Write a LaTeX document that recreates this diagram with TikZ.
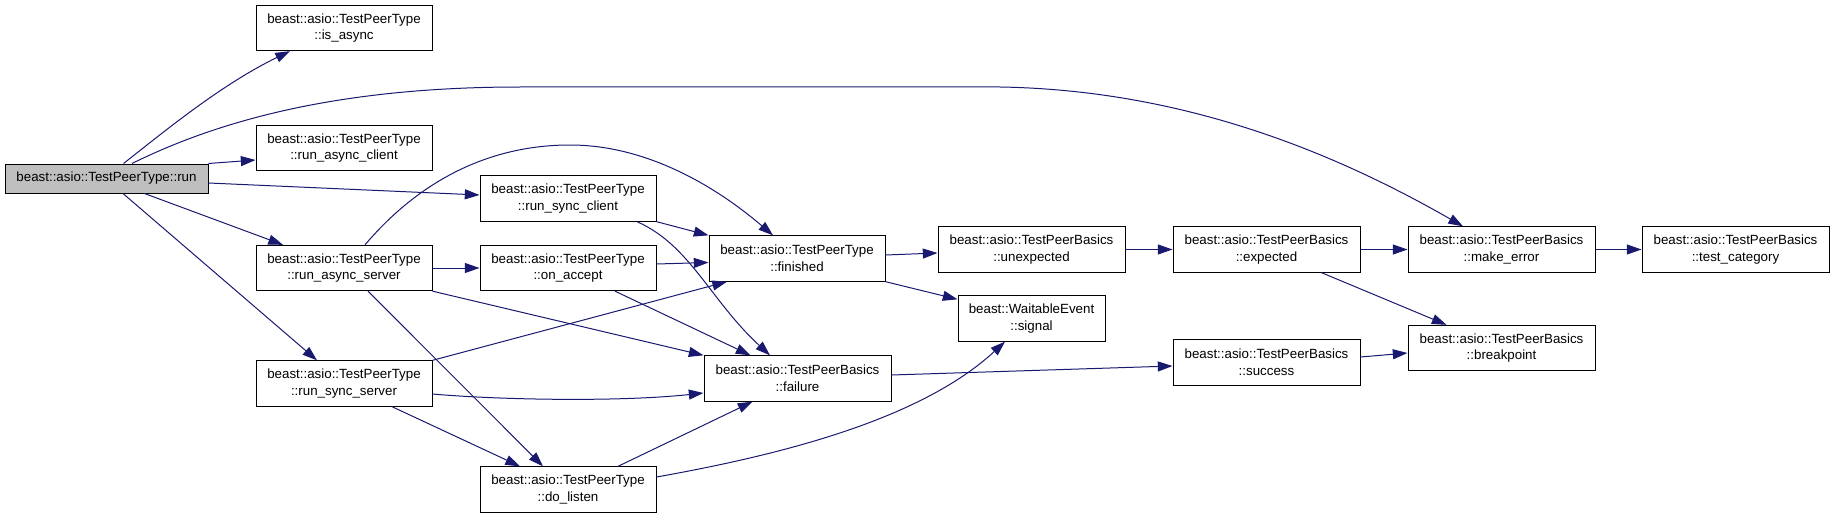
\documentclass[tikz,border=0pt]{standalone}
\usepackage{fontspec}
\setmainfont{Liberation Sans}
\usepackage{tikz}
\usetikzlibrary{arrows.meta, calc}
\definecolor{midnight}{RGB}{25,25,112}

\begin{document}
\begin{tikzpicture}[x=0.75pt,y=-0.75pt,
  fn/.style={draw=black,line width=0.75pt,fill=white,align=center,inner sep=0pt,
    minimum width=132pt,minimum height=34pt,font=\fontsize{10}{12.5}\selectfont},
  wide/.style={minimum width=140.25pt},
  call/.style={draw=midnight,line width=0.75pt,-{Triangle[length=11pt,width=7.5pt]}}]
  \useasboundingbox (0,0) rectangle (1835,517);
  % functions
  \node[fn,fill=black!25,minimum width=152.25pt,minimum height=21.75pt] (run) at (106.5,178.5) {beast::asio::TestPeerType::run};
  \node[fn] (isasync) at (344,28) {beast::asio::TestPeerType\\::is\_async};
  \node[fn] (runasyncclient) at (344,148) {beast::asio::TestPeerType\\::run\_async\_client};
  \node[fn] (runasyncserver) at (344,268) {beast::asio::TestPeerType\\::run\_async\_server};
  \node[fn] (runsyncserver) at (344,383.5) {beast::asio::TestPeerType\\::run\_sync\_server};
  \node[fn] (runsyncclient) at (568,198.5) {beast::asio::TestPeerType\\::run\_sync\_client};
  \node[fn] (onaccept) at (568,268) {beast::asio::TestPeerType\\::on\_accept};
  \node[fn] (dolisten) at (568,489.5) {beast::asio::TestPeerType\\::do\_listen};
  \node[fn] (finished) at (797,258.5) {beast::asio::TestPeerType\\::finished};
  \node[fn,wide] (failure) at (797.5,378.5) {beast::asio::TestPeerBasics\\::failure};
  \node[fn,wide] (unexpected) at (1031.5,249.5) {beast::asio::TestPeerBasics\\::unexpected};
  \node[fn,minimum width=110.25pt] (signal) at (1031.5,318.5) {beast::WaitableEvent\\::signal};
  \node[fn,wide] (expected) at (1266.5,249.5) {beast::asio::TestPeerBasics\\::expected};
  \node[fn,wide] (success) at (1266.5,362.5) {beast::asio::TestPeerBasics\\::success};
  \node[fn,wide] (makeerror) at (1501.5,249.5) {beast::asio::TestPeerBasics\\::make\_error};
  \node[fn,wide] (testcategory) at (1735.5,249.5) {beast::asio::TestPeerBasics\\::test\_category};
  \node[fn,wide] (breakpoint) at (1501.5,348) {beast::asio::TestPeerBasics\\::breakpoint};
  % calls
  \draw[call] ($(run.north)+(17,0)$) .. controls (160,135) and (220,85) .. ($(isasync.south)+(-54,0)$);
  \draw[call] ($(run.north)+(25.5,0)$) .. controls (220,120) and (340,87) .. (520,87) -- (1000,87)
    .. controls (1180,90) and (1330,150) .. ($(makeerror.north)+(-38.5,0)$);
  \draw[call] (run.north east) -- ($(runasyncclient.west)+(0,12)$);
  \draw[call] ($(run.east)+(0,4.5)$) -- ($(runsyncclient.west)+(0,-3.5)$);
  \draw[call] ($(run.south)+(38,0)$) -- ($(runasyncserver.north)+(-61,0)$);
  \draw[call] ($(run.south)+(16.5,0)$) -- ($(runsyncserver.north)+(-27,0)$);
  \draw[call] ($(runasyncserver.north)+(21,0)$) .. controls (420,180) and (490,145) .. (570,145)
    .. controls (650,145) and (720,190) .. ($(finished.north)+(-24,0)$);
  \draw[call] (runasyncserver.east) -- (onaccept.west);
  \draw[call] (runasyncserver.south east) -- (failure.north west);
  \draw[call] ($(runasyncserver.south)+(24,0)$) -- ($(dolisten.north)+(-25,0)$);
  \draw[call] (runsyncserver.north east) -- ($(finished.south)+(-70,0)$);
  \draw[call] ($(runsyncserver.east)+(0,10.5)$) .. controls (500,400) and (620,402) .. ($(failure.west)+(0,14.5)$);
  \draw[call] ($(runsyncserver.south)+(48,0)$) -- ($(dolisten.north)+(-48,0)$);
  \draw[call] (runsyncclient.south east) -- (finished.north west);
  \draw[call] ($(runsyncclient.south)+(69,0)$) .. controls (690,245) and (710,300) .. ($(failure.north)+(-27.5,0)$);
  \draw[call] ($(onaccept.east)+(0,-4)$) -- ($(finished.west)+(0,4)$);
  \draw[call] ($(onaccept.south)+(47,0)$) -- ($(failure.north)+(-47,0)$);
  \draw[call] ($(dolisten.north)+(50,0)$) -- ($(failure.south)+(-45,0)$);
  \draw[call] ($(dolisten.east)+(0,-12.5)$) .. controls (780,455) and (920,420) .. ($(signal.south)+(-26.5,0)$);
  \draw[call] ($(finished.east)+(0,-3.5)$) -- ($(unexpected.west)+(0,3.5)$);
  \draw[call] (finished.south east) -- ($(signal.north west)+(0,4)$);
  \draw[call] ($(failure.east)+(0,-3.5)$) -- ($(success.west)+(0,3.5)$);
  \foreach \a/\b in {unexpected/expected,expected/makeerror,makeerror/testcategory}
    \draw[call] (\a.east) -- (\b.west);
  \draw[call] ($(expected.south)+(55,0)$) -- ($(breakpoint.north)+(-55,0)$);
  \draw[call] ($(success.east)+(0,-5.5)$) -- ($(breakpoint.west)+(0,5)$);
\end{tikzpicture}
\end{document}
